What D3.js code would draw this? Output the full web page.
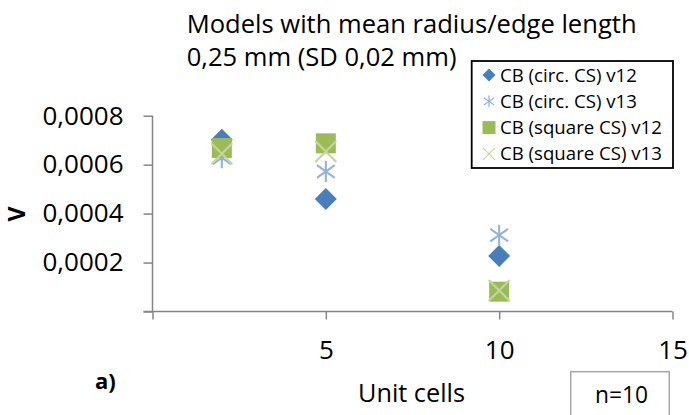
<!DOCTYPE html>
<html>
<head>
<meta charset="utf-8">
<script src="https://cdn.jsdelivr.net/npm/d3@7"></script>
<style>
	body { margin: 0; background: #fff; }
	text { font-family: "Open Sans", sans-serif; fill: #000; }
</style>
</head>
<body>
<div id="chart"></div>
<script>
// data
var unitCells = [2, 5, 10];
var circV12   = [0.000702, 0.000460, 0.000227];
var circV13   = [0.000628, 0.000572, 0.000312];
var squareV12 = [0.000668, 0.000687, 0.000081];
var squareV13 = [0.000645, 0.000654, 0.000086];

var seriesNames = ["CB (circ. CS) v12", "CB (circ. CS) v13", "CB (square CS) v12", "CB (square CS) v13"];
var seriesValues = [circV12, circV13, squareV12, squareV13];
var seriesShapes = ["diamond", "star", "square", "cross"];
var seriesColors = ["#4a7ebb", "#95b3d7", "#9bbb59", "#c3d69b"];

var xTicks = [0, 5, 10, 15];
var yTicks = [0, 0.0002, 0.0004, 0.0006, 0.0008];

var titleLines = ["Models with mean radius/edge length", "0,25 mm (SD 0,02 mm)"];

var width = 689, height = 415;

var svg = d3.select("#chart").append("svg")
	.attr("width", width)
	.attr("height", height);

// scales
var x = d3.scaleLinear().domain([0, 15]).range([152.5, 672.5]);
var y = d3.scaleLinear().domain([0, 0.0008]).range([311.5, 115.7]);

// fit font size so text has given width
function fit(sel, w) {
	var fs = parseFloat(sel.attr("font-size"));
	var len = sel.node().getComputedTextLength();
	sel.attr("font-size", (fs * w / len).toFixed(2) + "px");
	return sel;
}

// title
var t1 = svg.append("text").attr("x", 186.7).attr("y", 32.5).attr("font-size", "22px")
	.text(titleLines[0]).call(fit, 450);
svg.append("text").attr("x", 186.7).attr("y", 66).attr("font-size", t1.attr("font-size"))
	.text(titleLines[1]);

// axes
var fmt = function(d){ return d3.format(".4f")(d).replace(".", ","); };

var yAxis = svg.append("g")
	.attr("transform", "translate(" + x(0) + ",0)")
	.call(d3.axisLeft(y).tickValues(yTicks).tickSize(9).tickPadding(20)
		.tickFormat(function(d){ return d === 0 ? "" : fmt(d); }));

var xAxis = svg.append("g")
	.attr("transform", "translate(0," + y(0) + ")")
	.call(d3.axisBottom(x).tickValues(xTicks).tickSize(8).tickPadding(21)
		.tickFormat(function(d){ return d === 0 ? "" : d; }));

[xAxis, yAxis].forEach(function(a){
	a.select(".domain").attr("stroke", "#868686").attr("stroke-width", 1.5);
	a.selectAll(".tick line").attr("stroke", "#868686").attr("stroke-width", 1.5);
	a.selectAll(".tick text").attr("font-size", "26px")
		.style("font-family", "'Open Sans', sans-serif").attr("fill", "#000");
});
yAxis.select(".domain").attr("d", "M0," + y(0) + "V" + y(0.0008));
xAxis.select(".domain").attr("d", "M" + (x(0) - 9) + ",0H" + x(15));
xAxis.selectAll(".tick text").attr("dy", "0.71em");

// axis titles
svg.append("text")
	.attr("transform", "translate(17,214) rotate(-90)")
	.attr("text-anchor", "middle").attr("dy", "0.35em")
	.attr("font-size", "23px").attr("font-weight", "bold")
	.text("V");

svg.append("text").attr("x", 358).attr("y", 401.5).attr("font-size", "22px")
	.text("Unit cells").call(fit, 107);

svg.append("text").attr("x", 95).attr("y", 389).attr("font-size", "22px")
	.attr("font-weight", "bold").text("a)");

// markers
function marker(g, shape, color, s) {
	var h = s / 2;
	if (shape === "diamond") {
		g.append("path").attr("d", "M0," + (-h) + "L" + h + ",0L0," + h + "L" + (-h) + ",0Z")
			.attr("fill", color);
	} else if (shape === "square") {
		g.append("rect").attr("x", -h).attr("y", -h).attr("width", s).attr("height", s)
			.attr("fill", color);
	} else if (shape === "star") {
		g.append("path")
			.attr("d", "M0," + (-h) + "V" + h + "M" + (-h * 0.85) + "," + (-h * 0.6) + "L" + (h * 0.85) + "," + (h * 0.6)
				+ "M" + (-h * 0.85) + "," + (h * 0.6) + "L" + (h * 0.85) + "," + (-h * 0.6))
			.attr("stroke", color).attr("stroke-width", s / 10).attr("fill", "none");
	} else {
		g.append("path")
			.attr("d", "M" + (-h) + "," + (-h) + "L" + h + "," + h + "M" + (-h) + "," + h + "L" + h + "," + (-h))
			.attr("stroke", color).attr("stroke-width", s / 10).attr("fill", "none");
	}
}

var markerSizes = [22, 21, 20, 21];

seriesValues.forEach(function(vals, i){
	vals.forEach(function(v, j){
		var g = svg.append("g")
			.attr("transform", "translate(" + x(unitCells[j]) + "," + y(v) + ")");
		marker(g, seriesShapes[i], seriesColors[i], markerSizes[i]);
	});
});

// legend
var legend = svg.append("g");
legend.append("rect")
	.attr("x", 471.7).attr("y", 61).attr("width", 201.3).attr("height", 107)
	.attr("fill", "#fff").attr("stroke", "#000").attr("stroke-width", 1.8);

var legendSizes = [13, 12, 13, 12];
seriesNames.forEach(function(name, i){
	var row = legend.append("g").attr("transform", "translate(489," + (75 + i * 26.3) + ")");
	marker(row, seriesShapes[i], seriesColors[i], legendSizes[i]);
	row.append("text").attr("x", 11).attr("dy", "0.35em").attr("font-size", "17px").text(name);
});
fit(legend.select("text"), 137);
var lfs = legend.select("text").attr("font-size");
legend.selectAll("text").attr("font-size", lfs);

// n box
svg.append("rect")
	.attr("x", 570.7).attr("y", 371.7).attr("width", 98.6).attr("height", 60)
	.attr("fill", "#fff").attr("stroke", "#a6a6a6").attr("stroke-width", 1.5);
svg.append("text").attr("x", 621.5).attr("y", 403).attr("text-anchor", "middle")
	.attr("font-size", "22px").text("n=10").call(fit, 53);
</script>
</body>
</html>
